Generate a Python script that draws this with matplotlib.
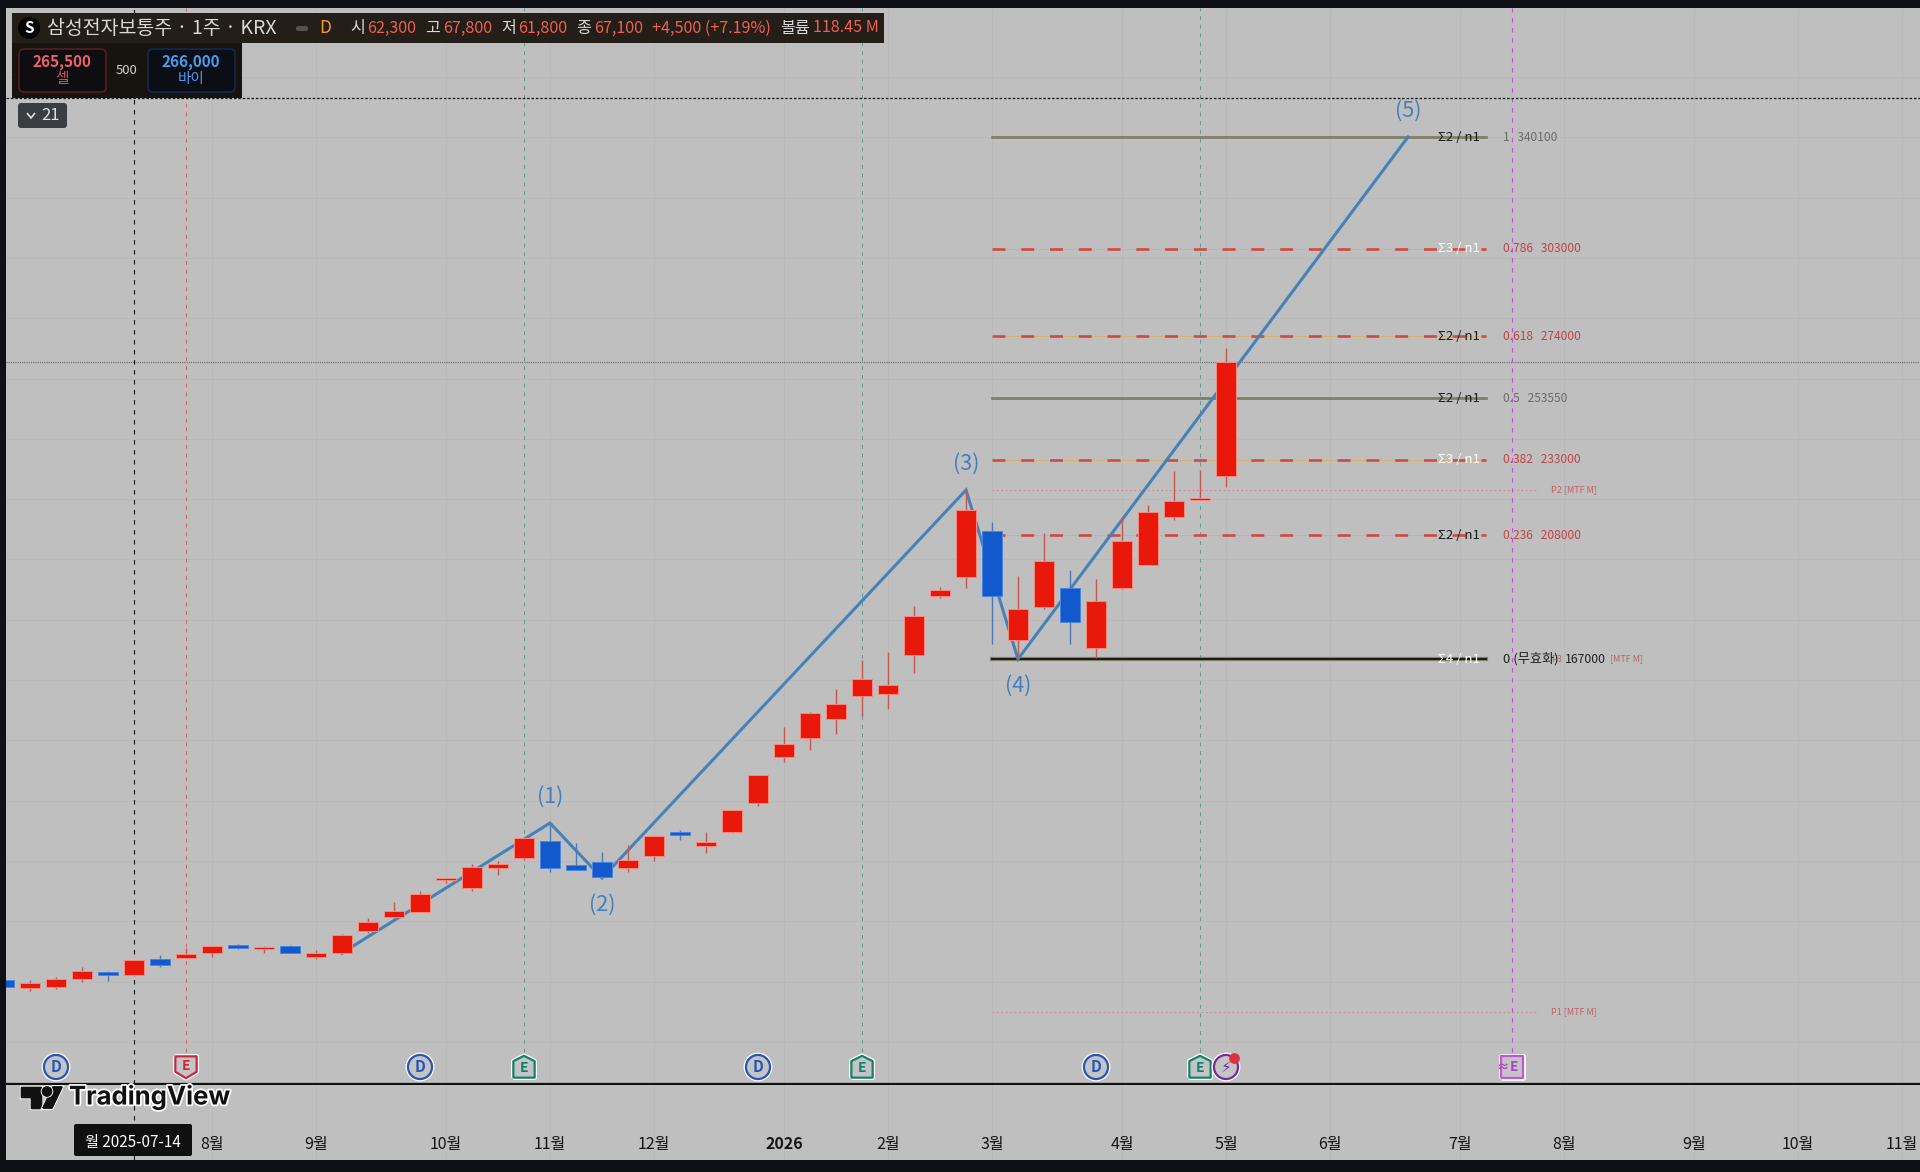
import matplotlib
matplotlib.use("Agg")
import matplotlib.pyplot as plt
import matplotlib.patheffects as pe
from matplotlib.patches import Rectangle, FancyBboxPatch, Polygon, Circle
from matplotlib.transforms import Affine2D

plt.rcParams['font.family'] = ['Noto Sans CJK KR', 'DejaVu Sans']

# weekly candles, oldest first
opens = [60560, 57910, 58240, 60890, 63210, 62220, 67530, 67860, 69520, 72170, 70840, 71840,
         68190, 69520, 76810, 81450, 83110, 93720, 91070, 97700, 101020, 106650, 98700, 99690,
         97700, 101680, 109640, 105000, 109640, 119260, 134510, 140810, 147110, 154740, 155400, 168330,
         187900, 194200, 209450, 173300, 184250, 190550, 170650, 190550, 198180, 214090, 219730, 227690]
closes = [58240, 59570, 60890, 63550, 62220, 67190, 65540, 69180, 71840, 71170, 71500, 69520,
          69520, 75480, 79800, 83440, 89080, 94380, 98030, 99030, 107650, 97700, 97040, 94720,
          100350, 108310, 108640, 106320, 116930, 128540, 138820, 149100, 152080, 160370, 158380, 181260,
          189890, 216410, 187900, 183590, 199500, 179270, 186240, 206130, 215750, 219400, 220390, 265500]
highs = [60560, 60560, 61560, 64870, 63550, 67190, 68850, 71170, 71840, 72500, 71840, 72170,
         70510, 75820, 81120, 86430, 90070, 94380, 99030, 100020, 107650, 112620, 105990, 103010,
         105330, 108310, 110300, 109640, 116930, 128540, 144460, 149430, 157060, 166670, 169330, 184580,
         190880, 223040, 212440, 194530, 208790, 196520, 193540, 214090, 218070, 229340, 229670, 270130]
lows = [57910, 56910, 57580, 59900, 60230, 61890, 64870, 67860, 68190, 70840, 69520, 69520,
        67530, 69180, 76150, 81120, 83110, 92730, 90070, 95380, 100350, 96370, 97040, 94380,
        96370, 100020, 106990, 102680, 109310, 118260, 132850, 136830, 142140, 148100, 150430, 162360,
        187230, 190550, 171980, 167340, 183590, 171980, 167340, 190220, 198180, 213100, 219730, 224040]

# elliott wave
wave_x = [13, 21, 23, 37, 39, 54]
wave_y = [69520, 112620, 94380, 223040, 167000, 340100]
wave_labels = ['', '(1)', '(2)', '(3)', '(4)', '(5)']
wave_side = [0, 1, -1, 1, -1, 1]

# fib levels
fib_ratio = ['1', '0.786', '0.618', '0.5', '0.382', '0.236']
fib_price = [340100, 303000, 274000, 253550, 233000, 208000]
fib_tag = ['Σ2 / n1', 'Σ3 / n1', 'Σ2 / n1', 'Σ2 / n1', 'Σ3 / n1', 'Σ2 / n1']
fib_dashed = [False, True, True, False, True, True]
fib_zero = 167000
pivot_names = ['P1 [MTF M]', 'P2 [MTF M]']
pivot_price = [50000, 223040]

# time axis
month_pos = [8, 12, 17, 21, 25, 30, 34, 38, 43, 47, 51, 56, 60, 65, 69, 73]
month_names = ['8월', '9월', '10월', '11월', '12월', '2026', '2월', '3월', '4월', '5월', '6월', '7월', '8월', '9월', '10월', '11월']

# events
div_pos = [2, 16, 29, 42]
earn_green = [20, 33, 46]
earn_red = [7]
earn_future = [58]
split_pos = [47]
cross_bar = 5
cross_price = 353030
last_price = 265500

BG = '#bfbfbf'
FRAME = '#0e1013'
RED = '#e8190a'
BLUE = '#1159cc'
WAVE = '#4682b8'
W, H = 1920, 1172

fig = plt.figure(figsize=(19.2, 11.72), dpi=100, facecolor=FRAME)
px = Affine2D().scale(1, -1).translate(0, H)


def rect(x0, y0, x1, y1):
    return [x0 / W, 1 - y1 / H, (x1 - x0) / W, (y1 - y0) / H]


# x: bar i sits at 4 + 26*i pixels, y: linear price scale 331.6 per pixel
ax = fig.add_axes(rect(6, 8, 1920, 1084), facecolor=BG)
ax.set_xlim((6 - 4) / 26, (1920 - 4) / 26)
ax.set_ylim(385530 - 331.6 * 1084, 385530 - 331.6 * 8)
strip = fig.add_axes(rect(6, 1085, 1920, 1160), facecolor=BG)
strip.set_xlim(ax.get_xlim())
strip.set_ylim(0, 1)

ax.set_yticks(range(40000, 380000, 20000))
ax.set_xticks(month_pos)
ax.grid(True, color='#b9b9b9', lw=0.6)
ax.set_axisbelow(True)
ax.tick_params(length=0, labelleft=False, labelbottom=False)
for s in ax.spines.values():
    s.set_visible(False)
ax.spines['bottom'].set_visible(True)
ax.spines['bottom'].set_color('#111111')
ax.spines['bottom'].set_linewidth(1.6)

strip.set_yticks([])
strip.set_xticks(month_pos)
strip.set_xticklabels(month_names, fontsize=11.5, color='#141414')
strip.get_xticklabels()[5].set_fontweight('bold')
strip.tick_params(length=0, direction='in', pad=-17.5)
strip.grid(True, axis='x', color='#b9b9b9', lw=0.6)
strip.set_axisbelow(True)
for s in strip.spines.values():
    s.set_visible(False)

# vertical session / event lines
dash = (0, (4, 5))
ax.axvline(cross_bar, color='#111111', lw=0.8, ls=dash, zorder=1.5)
strip.axvline(cross_bar, color='#111111', lw=0.8, ls=dash)
mark_frac = 0.03
for i in earn_red:
    ax.plot([i, i], [mark_frac, 1], color='#d05a6a', lw=0.7, ls=dash, transform=ax.get_xaxis_transform(), zorder=1.5)
for i in earn_green:
    ax.plot([i, i], [mark_frac, 1], color='#5a9c90', lw=0.7, ls=dash, transform=ax.get_xaxis_transform(), zorder=1.5)
for i in earn_future:
    ax.plot([i, i], [mark_frac, 1], color='#c24fe0', lw=0.8, ls=dash, transform=ax.get_xaxis_transform(), zorder=1.5)

ax.axhline(cross_price, color='#111111', lw=0.9, ls=(0, (2, 1.5)), zorder=1.5)
ax.axhline(last_price, color='#666666', lw=0.8, ls=(0, (1, 1)), zorder=1.5)

# fib lines
x0, x1 = 38, 57
for ratio, p, tag, dashed in zip(fib_ratio, fib_price, fib_tag, fib_dashed):
    if dashed:
        ax.plot([x0, x1], [p, p], color='#d8b070', lw=0.7, zorder=2)
        ax.plot([x0, x1], [p, p], color='#cf4a40', lw=1.9, ls=(0, (4.9, 6)), zorder=2.1)
        col = '#c4424a'
    else:
        ax.plot([x0, x1], [p, p], color='#7f7f68', lw=2, zorder=2)
        col = '#6b6b6b'
    ax.text(55.15, p, tag, fontsize=9.5, va='center', ha='left', zorder=6,
            color='white' if tag.startswith('Σ3') else '#1a1a1a')
    ax.text(57.65, p, ratio + '   ' + str(p), fontsize=8.6, va='center', ha='left', color=col, zorder=6)

ax.plot([x0, x1], [fib_zero, fib_zero], color='#7f7f68', lw=3, zorder=2)
ax.plot([x0, x1], [fib_zero, fib_zero], color='#1c1a12', lw=1.4, zorder=2.1)
ax.text(55.15, fib_zero, 'Σ4 / n1', fontsize=9.5, va='center', color='white', zorder=6)
ax.text(57.65, fib_zero, '0 (무효화)', fontsize=9.5, va='center', color='#222222', zorder=6)
ax.text(59.5, fib_zero, 'P3', fontsize=6.5, va='center', color='#c4606a', zorder=5)
ax.text(60.05, fib_zero, '167000', fontsize=8.8, va='center', color='#222222', zorder=6)
ax.text(61.75, fib_zero, '[MTF M]', fontsize=6.5, va='center', color='#c4606a', zorder=6)

for name, p in zip(pivot_names, pivot_price):
    ax.plot([x0, 59], [p, p], color='#c98a94', lw=0.8, ls=(0, (1.5, 2.5)), zorder=1.8)
    ax.text(59.5, p, name, fontsize=6.5, va='center', color='#c4606a', zorder=5)

# wave
ax.plot(wave_x, wave_y, color=WAVE, lw=2.2, solid_joinstyle='miter', zorder=3)
for x, y, lab, side in zip(wave_x, wave_y, wave_labels, wave_side):
    if lab:
        ax.annotate(lab, (x, y), xytext=(0, side * 19), textcoords='offset points', ha='center', va='center',
                    fontsize=15.5, color='#4180bd', zorder=6)

# candles
for i in range(len(opens)):
    up = closes[i] >= opens[i]
    wick = '#c8584e' if up else '#4a78b8'
    ax.vlines(i, lows[i], highs[i], color=wick, lw=1, zorder=3.5)
    ax.bar(i, abs(closes[i] - opens[i]), bottom=min(opens[i], closes[i]), width=0.79,
           color=RED if up else BLUE, edgecolor='#f58a80' if up else '#4a86e0', linewidth=0.7, zorder=4)

# event badges, pixel sized markers along the x axis
ev = ax.get_xaxis_transform()
ym = (1084 - 1067) / (1084 - 8)
house_up = [(-1, -1), (1, -1), (1, 0.55), (0, 1.05), (-1, 0.55), (-1, -1)]
house_dn = [(-1, 1), (1, 1), (1, -0.45), (0, -1.05), (-1, -0.45), (-1, 1)]
square = [(-1, -1), (1, -1), (1, 1), (-1, 1), (-1, -1)]
halo = [pe.withStroke(linewidth=3.4, foreground='white')]
for i in div_pos:
    ax.scatter([i], [ym], s=300, marker='o', facecolor='#c4c4c4', edgecolor='#2456b8', linewidth=1.6,
               transform=ev, zorder=7, path_effects=halo, clip_on=False)
    ax.text(i, ym, 'D', transform=ev, fontsize=11, fontweight='bold', color='#2456b8', ha='center', va='center', zorder=8)
for i in earn_green:
    ax.scatter([i], [ym], s=260, marker=house_up, facecolor='#c4c4c4', edgecolor='#14826a', linewidth=1.6,
               transform=ev, zorder=7, path_effects=halo)
    ax.text(i, ym - 0.001, 'E', transform=ev, fontsize=10, fontweight='bold', color='#14826a', ha='center', va='center', zorder=8)
for i in earn_red:
    ax.scatter([i], [ym], s=260, marker=house_dn, facecolor='#c4c4c4', edgecolor='#c8283c', linewidth=1.6,
               transform=ev, zorder=7, path_effects=halo)
    ax.text(i, ym + 0.001, 'E', transform=ev, fontsize=10, fontweight='bold', color='#c8283c', ha='center', va='center', zorder=8)
for i in earn_future:
    ax.scatter([i], [ym], s=240, marker=square, facecolor='#c4c4c4', edgecolor='#c455d8', linewidth=1.6,
               transform=ev, zorder=7, path_effects=halo)
    ax.text(i + 0.06, ym, 'E', transform=ev, fontsize=10, fontweight='bold', color='#b040d0', ha='center', va='center', zorder=8)
    ax.text(i - 0.36, ym, '≈', transform=ev, fontsize=9, fontweight='bold', color='#b040d0', ha='center', va='center', zorder=8)
for i in split_pos:
    ax.scatter([i], [ym], s=300, marker='o', facecolor='#c4c4c4', edgecolor='#7a2a96', linewidth=1.6,
               transform=ev, zorder=7, path_effects=halo)
    ax.text(i, ym, '⚡', transform=ev, fontsize=11, color='#7a2a96', ha='center', va='center', zorder=8, family=['DejaVu Sans'])
    ax.scatter([i + 0.3], [ym + 0.0085], s=45, marker='o', color='#e03040', transform=ev, zorder=9)

# date box under the crosshair
fig.add_artist(FancyBboxPatch((74, 1124), 118, 32, boxstyle='round,pad=0,rounding_size=2', transform=px,
                              facecolor='#101010', edgecolor='none', zorder=10))
fig.text(133, 1143, '월 2025-07-14', transform=px, color='white', fontsize=11, fontweight='medium', ha='center', va='center', zorder=11)

# tradingview watermark
white = [pe.withStroke(linewidth=2.5, foreground='white')]
logo = [Polygon([(21, 1087), (41, 1087), (41, 1108), (31, 1108), (31, 1097), (21, 1097)], transform=px, color='#111111'),
        Polygon([(53, 1087), (62, 1087), (52, 1108), (43, 1108)], transform=px, color='#111111'),
        Circle((47, 1091.5), 4.5, transform=px, color='#111111')]
for p in logo:
    p.set_zorder(10)
    p.set_path_effects(white + [pe.Normal()])
    fig.add_artist(p)
fig.text(69, 1097, 'TradingView', transform=px, fontsize=18.5, fontweight='bold', color='#111111', va='center',
         family=['Inter', 'DejaVu Sans'], path_effects=white, zorder=10)

# header legend
fig.add_artist(Rectangle((12, 13), 872, 30, transform=px, facecolor='#241e18', edgecolor='none', zorder=10))
fig.add_artist(Rectangle((12, 43), 230, 55, transform=px, facecolor='#17130f', edgecolor='none', zorder=10))
fig.add_artist(Circle((29, 28), 11, transform=px, facecolor='#050505', edgecolor='none', zorder=11))
fig.text(29, 28, 'S', transform=px, color='white', fontsize=11, fontweight='bold', ha='center', va='center', zorder=12)
fig.text(47, 28, '삼성전자보통주 · 1주 · KRX', transform=px, color='#d8d8d8', fontsize=14, va='center', zorder=12)
fig.add_artist(FancyBboxPatch((296, 26), 12, 5, boxstyle='round,pad=0,rounding_size=2', transform=px,
                              facecolor='#55524e', edgecolor='none', zorder=11))
fig.text(325, 28, 'D', transform=px, color='#f59a23', fontsize=12.5, ha='center', va='center', zorder=12)

legend_x = [350, 367, 425, 443, 501, 518, 576, 594, 652, 780, 813]
legend_txt = ['시', '62,300', '고', '67,800', '저', '61,800', '종', '67,100', '+4,500 (+7.19%)', '볼륨', '118.45 M']
legend_col = ['#d8d8d8', '#f2604f', '#d8d8d8', '#f2604f', '#d8d8d8', '#f2604f', '#d8d8d8', '#f2604f', '#f2604f', '#d8d8d8', '#f2604f']
for x, s, c in zip(legend_x, legend_txt, legend_col):
    fig.text(x, 28, s, transform=px, color=c, fontsize=11.6, va='center', zorder=12)

fig.add_artist(FancyBboxPatch((19, 49), 87, 43, boxstyle='round,pad=0,rounding_size=5', transform=px,
                              facecolor='#0e0e10', edgecolor='#5a1c22', linewidth=1.2, zorder=11))
fig.add_artist(FancyBboxPatch((148, 49), 87, 43, boxstyle='round,pad=0,rounding_size=5', transform=px,
                              facecolor='#0b0e14', edgecolor='#14284e', linewidth=1.2, zorder=11))
fig.text(62, 62, '265,500', transform=px, color='#f0606a', fontsize=11, fontweight='bold', ha='center', va='center', zorder=12)
fig.text(62, 79, '셀', transform=px, color='#e0505c', fontsize=10.5, ha='center', va='center', zorder=12)
fig.text(191, 62, '266,000', transform=px, color='#4a9cf0', fontsize=11, fontweight='bold', ha='center', va='center', zorder=12)
fig.text(191, 79, '바이', transform=px, color='#4a9cf0', fontsize=10.5, ha='center', va='center', zorder=12)
fig.text(127, 70, '500', transform=px, color='#d0d0d0', fontsize=9.5, ha='center', va='center', zorder=12)

# collapsed indicators button
fig.add_artist(FancyBboxPatch((18, 103), 49, 25, boxstyle='round,pad=0,rounding_size=3', transform=px,
                              facecolor='#3a3d42', edgecolor='none', zorder=10))
fig.add_artist(Polygon([(27, 113), (31, 118), (35, 113)], closed=False, fill=False, transform=px,
                       edgecolor='#e0e0e0', linewidth=1.2, zorder=11))
fig.text(51, 115, '21', transform=px, color='#e0e0e0', fontsize=12, ha='center', va='center', zorder=11)

fig.savefig('out.png', dpi=100, facecolor=fig.get_facecolor())
